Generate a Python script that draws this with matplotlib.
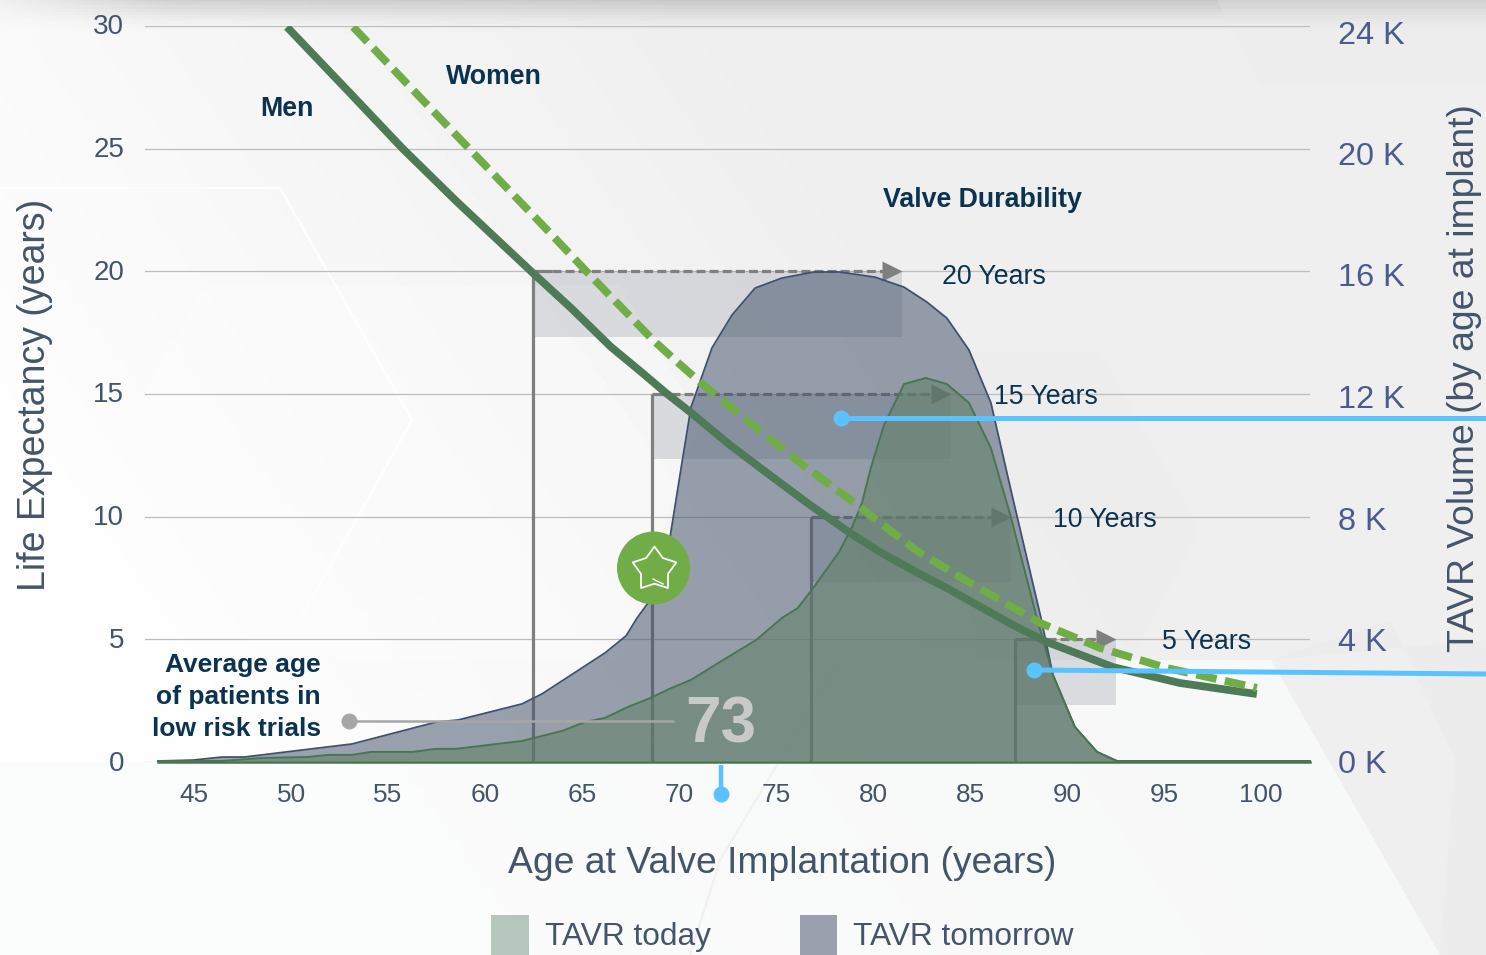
import numpy as np
import matplotlib
matplotlib.use("Agg")
import matplotlib.pyplot as plt
from matplotlib.patches import Patch, Polygon, Rectangle, Circle
from matplotlib.path import Path
from matplotlib.markers import MarkerStyle
from matplotlib.transforms import ScaledTranslation

plt.rcParams['font.family'] = ['Liberation Sans', 'DejaVu Sans']

# ---------- data ----------
age_ticks = [45, 50, 55, 60, 65, 70, 75, 80, 85, 90, 95, 100]
years_ticks = [0, 5, 10, 15, 20, 25, 30]
volume_ticks = [0, 4, 8, 12, 16, 20, 24]

tomorrow_age = [43.14, 44.95, 46.44, 47.58, 53.14, 57.47, 58.61, 61.91, 62.94, 66.19, 67.27, 67.84,
                68.40, 69.54, 70.15, 70.62, 71.70, 72.73, 73.92, 75.31, 76.96, 78.25, 80.10, 81.60,
                82.78, 83.81, 84.95, 86.08, 87.11, 88.66, 89.28, 90.41, 91.55, 92.58, 102.53]
tomorrow_vol = [0, 0.03, 0.13, 0.13, 0.56, 1.28, 1.35, 1.88, 2.21, 3.56, 4.12, 4.71,
                5.20, 7.37, 9.81, 11.65, 13.60, 14.68, 15.57, 15.90, 16.10, 16.10, 15.93, 15.60,
                15.11, 14.58, 13.53, 11.79, 8.92, 4.71, 2.83, 1.12, 0.30, 0, 0]

today_age = [43.14, 46.44, 48.51, 50.82, 51.91, 53.14, 54.12, 56.29, 57.47, 58.51, 61.91, 63.97,
             65.15, 66.19, 67.37, 68.51, 69.59, 70.62, 72.11, 73.97, 75.31, 76.13, 76.96, 78.25,
             78.92, 79.43, 79.90, 80.57, 81.60, 82.73, 83.81, 84.95, 86.08, 87.11, 88.45, 89.28,
             90.41, 91.55, 92.58, 102.53]
today_vol = [0, 0, 0.10, 0.13, 0.20, 0.20, 0.30, 0.30, 0.40, 0.40, 0.66, 0.99,
             1.28, 1.42, 1.78, 2.07, 2.40, 2.67, 3.26, 3.98, 4.71, 5.04, 5.73, 6.88,
             7.70, 8.49, 9.68, 11.06, 12.41, 12.61, 12.41, 11.79, 10.30, 8.03, 4.71, 2.83,
             1.12, 0.30, 0, 0]

men_age = [49.79, 52.89, 55.77, 58.56, 62.47, 64.48, 66.49, 67.99, 69.33, 70.57, 72.63, 74.54,
           76.75, 78.81, 80.36, 82.42, 83.81, 87.22, 88.97, 92.37, 95.82, 99.79]
men_years = [29.96, 27.39, 24.99, 22.83, 19.93, 18.47, 16.92, 15.94, 15.04, 14.27, 12.92, 11.78,
             10.48, 9.34, 8.56, 7.66, 7.09, 5.58, 4.89, 3.87, 3.22, 2.77]

women_age = [53.20, 56.29, 59.74, 63.20, 65.31, 68.66, 69.90, 71.08, 73.66, 76.39, 79.18, 80.72,
             82.27, 84.48, 88.61, 91.70, 95.15, 99.79]
women_years = [29.96, 27.39, 24.54, 21.69, 19.93, 17.20, 16.31, 15.49, 13.82, 12.11, 10.48, 9.54,
               8.60, 7.54, 5.67, 4.65, 3.83, 3.02]

durability_years = [20, 15, 10, 5]
durability_start = [62.47, 68.61, 76.80, 87.32]
durability_end = [81.49, 84.02, 87.11, 92.53]
durability_labels = ['20 Years', '15 Years', '10 Years', '5 Years']

W, H = 1486, 955
NAVY = '#0b3350'
SLATE = '#44546a'
RIGHT = '#4b5b8e'
BLUE = '#5ac3ff'

fig = plt.figure(figsize=(W / 100, H / 100), dpi=100)

# ---------- background ----------
bg = fig.add_axes([0, 0, 1, 1], zorder=-5)
bg.set_xlim(0, W); bg.set_ylim(H, 0); bg.axis('off')
xx, yy = np.meshgrid(np.linspace(0, 1, 400), np.linspace(0, 1, 300))
shade = 254 - 15 * np.clip((xx + 0.45 * (0.5 - yy)) / 0.68, 0, 1)
shade = shade - 38 * np.clip(xx / 0.15 + 0.25, 0, 1) * np.clip(1 - yy / 0.035, 0, 1) ** 1.6
bg.imshow(shade, extent=(0, W, H, 0), cmap='gray', vmin=0, vmax=255, aspect='auto', zorder=0)
bg.set_xlim(0, W); bg.set_ylim(H, 0)
for pts, col, a in [
    ([(975, 660), (1271, 660), (1440, 955), (0, 955), (0, 762), (975, 762)], '#fbfcfc', 0.7),
    ([(205, 285), (620, 285), (700, 420), (620, 660), (100, 660), (100, 470)], '#ffffff', 0.3),
    ([(1217, 0), (1260, 83), (1486, 83), (1486, 0)], '#e9e9eb', 0.25),
    ([(1271, 660), (1390, 620), (1455, 760), (1440, 955), (1486, 955), (1486, 640)], '#e6e7e9', 0.25),
    ([(975, 352), (1100, 352), (1200, 530), (1130, 660), (975, 660)], '#e8e9eb', 0.2),
]:
    bg.add_patch(Polygon(pts, closed=True, fc=col, ec='none', alpha=a, zorder=1))
bg.add_patch(Polygon([(0, 188), (280, 188), (412, 420), (300, 620)], closed=False, fc='none', ec='#ffffff', lw=1.6, alpha=0.9, zorder=2))
bg.add_patch(Polygon([(840, 660), (720, 860), (690, 955)], closed=False, fc='none', ec='#f1f1f2', lw=1.6, zorder=2))

# ---------- axes ----------
ax = fig.add_axes([145 / W, (H - 762) / H, 1165 / W, 736 / H])
ax.set_xlim(42.47, 102.53)
ax.set_ylim(0, 30)
ax.patch.set_visible(False)
ax2 = ax.twinx()
ax2.set_ylim(-1 / 30.375, 735 / 30.375)
ax2.patch.set_visible(False)
for a in (ax, ax2):
    for s in a.spines.values():
        s.set_visible(False)

ax.set_xticks(age_ticks)
ax.set_yticks(years_ticks)
ax.tick_params(axis='x', length=0, pad=15, labelsize=18.8, labelcolor=SLATE)
ax.tick_params(axis='y', length=0, pad=15, labelsize=20, labelcolor=SLATE)
shift_up = ScaledTranslation(0, 1.5 / 100, fig.dpi_scale_trans)
for t in ax.get_yticklabels():
    t.set_transform(t.get_transform() + shift_up)
ax.grid(axis='y', color='#bdbdbd', lw=0.9, zorder=0)
ax.set_axisbelow(True)
ax2.set_yticks(volume_ticks)
ax2.set_yticklabels([f'{v} K' for v in volume_ticks])
ax2.tick_params(axis='y', length=0, pad=20, labelsize=23.4, labelcolor=RIGHT)

ax.set_xlabel('Age at Valve Implantation (years)', fontsize=26.8, color=SLATE, va='center')
ax.xaxis.set_label_coords((782 - 145) / 1165, (762 - 863) / 736)
ax.set_ylabel('Life Expectancy (years)', fontsize=27, color=SLATE, va='center')
ax.yaxis.set_label_coords((35 - 145) / 1165, (762 - 395) / 736)
ax2.set_ylabel('TAVR Volume (by age at implant)', fontsize=26.8, color=SLATE, va='center', rotation=90)
ax2.yaxis.set_label_coords((1465 - 145) / 1165, (762 - 378) / 736)

# durability markers
for y, x0, x1 in zip(durability_years, durability_start, durability_end):
    ax.add_patch(Rectangle((x0, y - 2.66), x1 - x0, 2.66, fc='#8a8f9e', ec='none', alpha=0.27, zorder=1.5))
    ax.plot([x0, x0], [0, y], color='#7f7f7f', lw=2.3, zorder=1.6, solid_capstyle='butt')
    ax.plot([x0, x0 + 1.0], [y, y], color='#7f7f7f', lw=2.3, zorder=1.6, solid_capstyle='butt')
    ax.plot([x0 + 1.0, x1 - 0.7], [y, y], color='#7f7f7f', lw=2.3, zorder=1.6, dashes=(2.8, 1.3), dash_capstyle='butt')
    ax.plot([x1 - 0.5], [y], marker='>', ms=15, color='#7f7f7f', mec='none', zorder=1.6)

# volume areas (right axis scale)
ax.fill_between(tomorrow_age, 0, tomorrow_vol, transform=ax2.transData, color='#44546a', alpha=0.54, lw=0, zorder=2)
ax.plot(tomorrow_age, tomorrow_vol, transform=ax2.transData, color='#3f5270', lw=1.3, zorder=2.1)
ax.fill_between(today_age, 0, today_vol, transform=ax2.transData, color='#648269', alpha=0.6, lw=0, zorder=2.2)
ax.plot(today_age, today_vol, transform=ax2.transData, color='#4a7551', lw=1.4, zorder=2.3, clip_on=False)
ax.plot([today_age[0], today_age[-1]], [0, 0], color='#4a7551', lw=1.8, zorder=2.3, clip_on=False)

# life expectancy curves
ax.plot(men_age, men_years, color='#4f7a58', lw=5.6, zorder=4, solid_capstyle='butt', solid_joinstyle='round')
ax.plot(women_age, women_years, color='#70ad47', lw=5.6, zorder=5, dashes=(2.65, 1.1), dash_capstyle='butt', dash_joinstyle='round')

legend = fig.legend(
    handles=[Patch(fc='#b5c6bc', ec='none', label='TAVR today'), Patch(fc='#9aa0ad', ec='none', label='TAVR tomorrow')],
    loc='center left', bbox_to_anchor=(491 / W, (H - 935) / H), ncol=2, frameon=False, fontsize=22.8,
    handlelength=1.19, handleheight=1.55, handletextpad=0.5, columnspacing=2.81, borderpad=0, borderaxespad=0,
    labelcolor=SLATE)

# ---------- annotations in pixel space ----------
ov = fig.add_axes([0, 0, 1, 1], zorder=10)
ov.set_xlim(0, W); ov.set_ylim(H, 0); ov.axis('off')

def label(x, y, s, **kw):
    kw.setdefault('color', NAVY)
    kw.setdefault('fontsize', 19.3)
    ov.text(x, y, s, va='center', **kw)

label(494, 77, 'Women', ha='center', fontweight='bold')
label(287, 109, 'Men', ha='center', fontweight='bold')
label(982, 200, 'Valve Durability', ha='center', fontweight='bold')
for (x, y), s in zip([(994, 277), (1046, 397), (1105, 520), (1207, 642)], durability_labels):
    label(x, y, s, ha='center')
label(321, 665, 'Average age', ha='right', fontweight='bold', fontsize=19)
label(321, 697, 'of patients in', ha='right', fontweight='bold', fontsize=19)
label(321, 729, 'low risk trials', ha='right', fontweight='bold', fontsize=19)

ov.plot([349, 674], [721, 721], color='#a6a6a6', lw=1.8, solid_capstyle='butt')
ov.plot([349], [721], 'o', ms=11.5, color='#a6a6a6', mec='none')
ov.text(720.5, 725, '73', ha='center', va='center', fontsize=46, fontweight='bold', color='#c9c9c9')

ov.add_patch(Circle((653.5, 568), 36.5, fc='#70ad47', ec='none'))
star = MarkerStyle(Path.unit_regular_star(5, innerCircle=0.62), joinstyle='round')
ov.plot([653.5], [569], marker=star, ms=33, mfc='none', mec='white', mew=1.3)
ov.plot([653, 663], [579, 584], color='white', lw=1.0)

ov.plot([841, 1486], [418, 418], color=BLUE, lw=3.6, solid_capstyle='butt')
ov.plot([841], [418], 'o', ms=11.5, color=BLUE, mec='none')
ov.plot([1034, 1486], [670, 674], color=BLUE, lw=3.6, solid_capstyle='butt')
ov.plot([1034], [670], 'o', ms=11.5, color=BLUE, mec='none')
ov.plot([720.5, 720.5], [765, 794], color=BLUE, lw=3.2, solid_capstyle='butt')
ov.plot([720.5], [794], 'o', ms=11.5, color=BLUE, mec='none')

fig.savefig('out.png', dpi=100)
